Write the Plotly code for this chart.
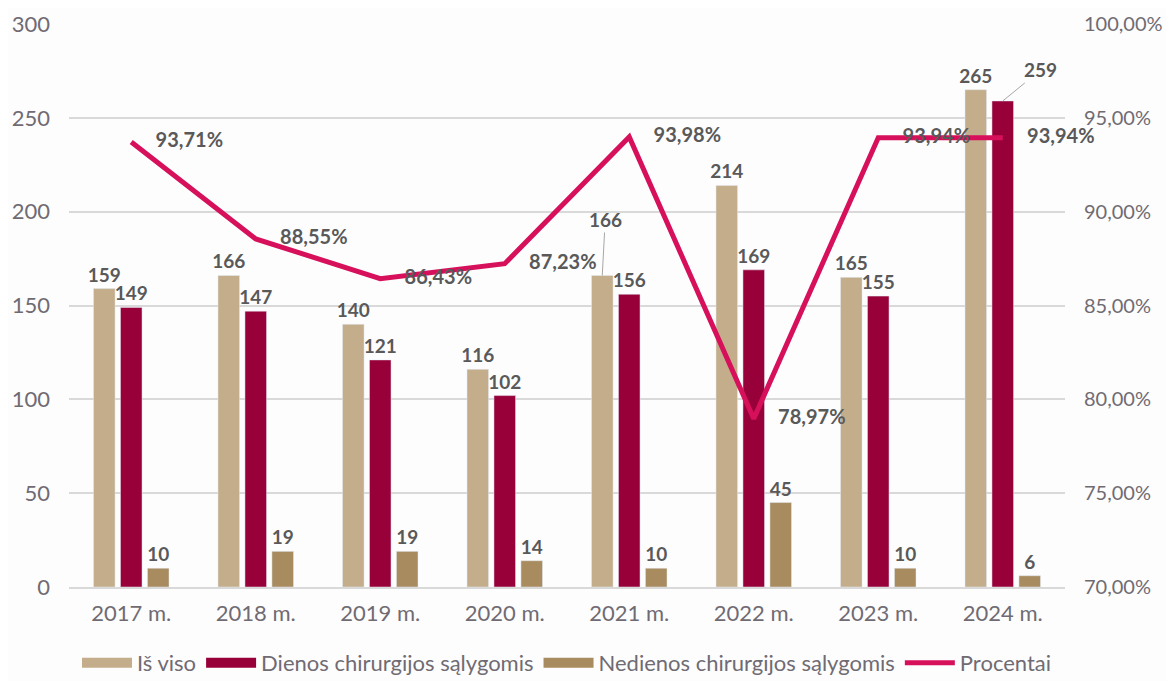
import plotly.graph_objects as go

# --- Datos ---
anios = ['2017 m.', '2018 m.', '2019 m.', '2020 m.', '2021 m.', '2022 m.', '2023 m.', '2024 m.']
is_viso = [159, 166, 140, 116, 166, 214, 165, 265]
dienos = [149, 147, 121, 102, 156, 169, 155, 259]
nedienos = [10, 19, 19, 14, 10, 45, 10, 6]
procentai = [93.71, 88.55, 86.43, 87.23, 93.98, 78.97, 93.94, 93.94]

y2_ticks = [70, 75, 80, 85, 90, 95, 100]
y2_ticktext = ['70,00%', '75,00%', '80,00%', '85,00%', '90,00%', '95,00%', '100,00%']

GRIS = '#595959'
GRIS_EJE = '#706B72'
FUENTE = 'Lato, Open Sans, sans-serif'
etiqueta = dict(family=FUENTE, size=19, color=GRIS, weight='bold')

series = [
    ('Iš viso', is_viso, '#C4AD8B'),
    ('Dienos chirurgijos sąlygomis', dienos, '#98003A'),
    ('Nedienos chirurgijos sąlygomis', nedienos, '#A88B5E'),
]

fig = go.Figure()

for nombre, valores, color in series:
    textos = [str(v) for v in valores]
    # estas etiquetas van desplazadas con línea guía (anotaciones abajo)
    if nombre == 'Iš viso':
        textos[4] = ''
    if nombre.startswith('Dienos'):
        textos[-1] = ''
    fig.add_trace(go.Bar(
        x=anios, y=valores, name=nombre, showlegend=False,
        marker_color=color,
        text=textos, textposition='outside', textfont=etiqueta,
        constraintext='none', cliponaxis=False
    ))

# entradas de leyenda con rectángulos anchos (como en Excel)
for nombre, valores, color in series:
    fig.add_trace(go.Scatter(
        x=[None], y=[None], name=nombre, mode='lines',
        line=dict(color=color, width=16)
    ))

# Línea de porcentajes (eje derecho)
textos_pct = ['     ' + f'{v:.2f}'.replace('.', ',') + '%' for v in procentai]
fig.add_trace(go.Scatter(
    x=anios, y=procentai, name='Procentai', yaxis='y2',
    mode='lines+text',
    line=dict(color='#D6105A', width=5),
    text=textos_pct, textposition='middle right',
    textfont=dict(family=FUENTE, size=20, color=GRIS, weight='bold'),
    cliponaxis=False
))

fig.add_annotation(
    x=anios[-1], y=dienos[-1], text=str(dienos[-1]),
    showarrow=True, arrowhead=0, arrowwidth=1, arrowcolor='#A6A6A6',
    ax=38, ay=-31, font=etiqueta
)
fig.add_annotation(
    x=anios[4], y=is_viso[4], text=str(is_viso[4]),
    showarrow=True, arrowhead=0, arrowwidth=1, arrowcolor='#A6A6A6',
    xshift=-27, ax=3, ay=-56, font=etiqueta
)

fig.update_layout(
    width=1166, height=673,
    margin=dict(l=61, r=109, t=16, b=94),
    paper_bgcolor='#FDFDFE', plot_bgcolor='#FDFDFE',
    barmode='group', bargap=0.35, bargroupgap=0.2,
    font=dict(family=FUENTE, size=20, color=GRIS_EJE),
    showlegend=True,
    legend=dict(
        orientation='h', x=0.5, xanchor='center',
        yref='container', y=0.058, yanchor='top',
        font=dict(family=FUENTE, size=22, color=GRIS_EJE),
        itemwidth=50, traceorder='normal'
    ),
    xaxis=dict(
        showgrid=False, ticks='', tickfont=dict(size=22, color=GRIS_EJE),
        showline=True, linecolor='#D9D9D9', linewidth=1.5, automargin=False,
        ticklabelstandoff=6
    ),
    yaxis=dict(
        range=[0, 300], dtick=50, showgrid=True, gridcolor='#D9D9D9',
        gridwidth=1.5, zeroline=False, ticks='', ticklabelstandoff=18,
        tickfont=dict(size=22, color=GRIS_EJE), automargin=False
    ),
    yaxis2=dict(
        overlaying='y', side='right', range=[70, 100],
        tickvals=y2_ticks, ticktext=y2_ticktext,
        showgrid=False, zeroline=False, ticks='', ticklabelstandoff=18,
        tickfont=dict(size=20, color=GRIS_EJE), automargin=False
    ),
)

fig.write_html("out.html")
